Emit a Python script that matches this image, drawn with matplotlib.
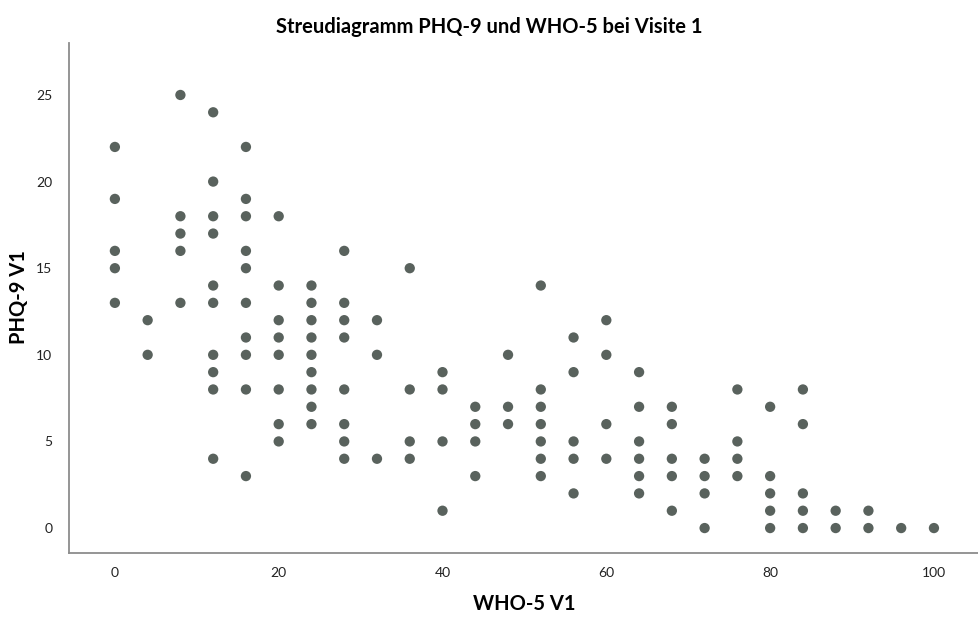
import matplotlib
matplotlib.use("Agg")
import matplotlib.pyplot as plt

# WHO-5 score columns and PHQ-9 values found at each
who5_levels = [0, 4, 8, 12, 16, 20, 24, 28, 32, 36, 40, 44, 48, 52,
               56, 60, 64, 68, 72, 76, 80, 84, 88, 92, 96, 100]
phq9_at_level = [
    [22, 19, 16, 15, 13],
    [12, 10],
    [25, 18, 17, 16, 13],
    [24, 20, 18, 17, 14, 13, 10, 9, 8, 4],
    [22, 19, 18, 16, 15, 13, 11, 10, 8, 3],
    [18, 14, 12, 11, 10, 8, 6, 5],
    [14, 13, 12, 11, 10, 9, 8, 7, 6],
    [16, 13, 12, 11, 8, 6, 5, 4],
    [12, 10, 4],
    [15, 8, 5, 4],
    [9, 8, 5, 1],
    [7, 6, 5, 3],
    [10, 7, 6],
    [14, 8, 7, 6, 5, 4, 3],
    [11, 9, 5, 4, 2],
    [12, 10, 6, 4],
    [9, 7, 5, 4, 3, 2],
    [7, 6, 4, 3, 1],
    [4, 3, 2, 0],
    [8, 5, 4, 3],
    [7, 3, 2, 1, 0],
    [8, 6, 2, 1, 0],
    [1, 0],
    [1, 0],
    [0],
    [0],
]

who5 = []
phq9 = []
for lvl, vals in zip(who5_levels, phq9_at_level):
    for v in vals:
        who5.append(lvl)
        phq9.append(v)

x_ticks = [0, 20, 40, 60, 80, 100]
y_ticks = [0, 5, 10, 15, 20, 25]

fnt = ['Lato', 'DejaVu Sans']
plt.rcParams['font.family'] = fnt

fig = plt.figure(figsize=(9.79, 6.25), dpi=100)
ax = fig.add_axes([0.0705, 0.1152, 0.9295, 0.816])

ax.scatter(who5, phq9, s=55, color='#59625d', edgecolors='none', zorder=3)

ax.set_xlim(-5.6, 105.5)
ax.set_ylim(-1.44, 28.0)
ax.set_xticks(x_ticks)
ax.set_yticks(y_ticks)
ax.tick_params(length=0, labelsize=10, colors='#222222')
ax.tick_params(axis='x', pad=10)
ax.tick_params(axis='y', pad=12)

for side in ['top', 'right']:
    ax.spines[side].set_visible(False)
for side in ['left', 'bottom']:
    ax.spines[side].set_color('#8c8c8c')
    ax.spines[side].set_linewidth(1.3)

fig.text(0.536, 1 - 604 / 625, 'WHO-5 V1', ha='center', va='center',
         fontsize=14.5, fontweight='bold')
fig.text(19 / 979, 1 - 297 / 625, 'PHQ-9 V1', ha='center', va='center',
         rotation=90, fontsize=14.5, fontweight='bold')
fig.text(0.5, 1 - 27 / 625, 'Streudiagramm PHQ-9 und WHO-5 bei Visite 1',
         ha='center', va='center', fontsize=14.5, fontweight='bold')

fig.savefig('out.png', dpi=100)
